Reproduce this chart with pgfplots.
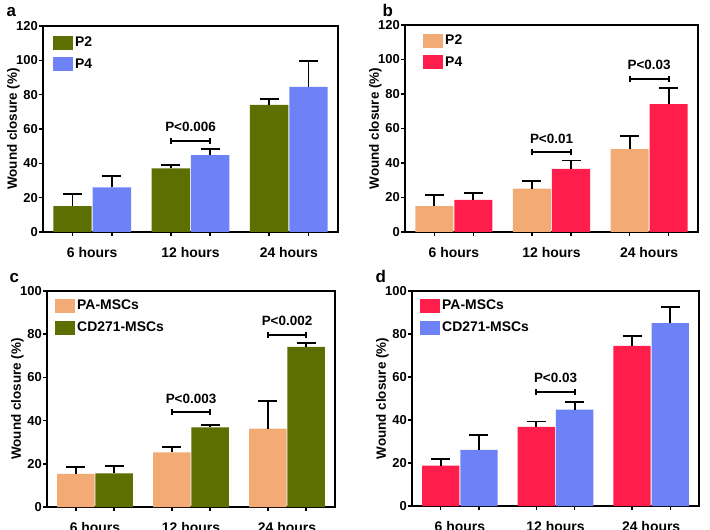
\documentclass[border=0pt]{standalone}
\usepackage{fontspec}
\setmainfont{Liberation Sans}
\usepackage{pgfplots}
\pgfplotsset{compat=1.18}
\definecolor{cOlive}{HTML}{5C6F00}
\definecolor{cBlue}{HTML}{6E82F8}
\definecolor{cPeach}{HTML}{F2AB75}
\definecolor{cRed}{HTML}{FF1E4B}
\pgfplotsset{
  panel/.style={
    scale only axis,
    xmin=-0.5, xmax=2.5, ymin=0,
    axis line style={line width=2bp},
    tick align=outside,
    tick pos=left,
    major tick length=4bp,
    tick style={black, line width=1.5bp},
    xtick={-0.2,0.2,0.8,1.2,1.8,2.2},
    xticklabels={},
    extra x ticks={0,1,2},
    extra x tick labels={6 hours,12 hours,24 hours},
    extra x tick style={major tick length=0pt, tick label style={yshift=-12bp, font=\fontsize{14}{16}\selectfont\bfseries}},
    /pgf/number format/assume math mode=true,
    tick label style={font=\fontsize{13}{15}\selectfont\bfseries},
    yticklabel style={inner xsep=1bp},
    ylabel={Wound closure (\%)},
    ylabel shift=-8bp,
    ylabel style={font=\fontsize{13.5}{16}\selectfont\bfseries},
    legend style={draw=none, fill=none, at={(0,1)}, anchor=north west,
      font=\fontsize{14}{16}\selectfont\bfseries, row sep=6.5bp, inner sep=0pt},
    legend cell align=left,
    legend image code/.code={\fill[##1] (0bp,-7bp) rectangle (20bp,7bp);},
    clip=false,
  },
  bars/.style={ybar, bar width=0.39, bar shift=0pt, draw=none, fill=#1,
    error bars/.cd, y dir=plus, y explicit,
    error bar style={line width=1.8bp, black},
    error mark options={line width=1.8bp, black, mark size=9.5bp, rotate=90}},
}
\newcommand{\bracket}[4]{%
  \draw[line width=2bp, black] (axis cs:#1,#3) -- node[midway, anchor=base, yshift=9bp, inner sep=0pt, font=\fontsize{13.5}{16}\selectfont\bfseries] {#4} (axis cs:#2,#3);
  \draw[line width=2bp, black] ([yshift=-3bp]axis cs:#1,#3) -- ([yshift=3bp]axis cs:#1,#3);
  \draw[line width=2bp, black] ([yshift=-3bp]axis cs:#2,#3) -- ([yshift=3bp]axis cs:#2,#3);
}
\begin{document}
\begin{tikzpicture}
\path[use as bounding box] (0,0) rectangle (710bp,530bp);
% panel a
\begin{axis}[panel, at={(43bp,298bp)}, anchor=south west, width=295bp, height=206bp,
  ymax=120, ytick={0,20,...,120}, legend style={xshift=10bp, yshift=-9bp}]
\addplot[bars=cOlive] coordinates {(-0.2,15) +- (0,7) (0.8,37) +- (0,1.8) (1.8,74) +- (0,3.5)};
\addplot[bars=cBlue] coordinates {(0.2,26) +- (0,6.6) (1.2,44.8) +- (0,3.5) (2.2,84.5) +- (0,15.3)};
\legend{P2,P4}
\bracket{0.8}{1.2}{53.2}{P<0.006}
\end{axis}
% panel b
\begin{axis}[panel, at={(405bp,298bp)}, anchor=south west, width=293bp, height=207bp,
  ymax=120, ytick={0,20,...,120}, legend style={xshift=18bp, yshift=-8bp}]
\addplot[bars=cPeach] coordinates {(-0.2,15) +- (0,6.6) (0.8,25.1) +- (0,4.6) (1.8,48) +- (0,7.5)};
\addplot[bars=cRed] coordinates {(0.2,18.6) +- (0,3.8) (1.2,36.6) +- (0,4.8) (2.2,74.2) +- (0,9.1)};
\legend{P2,P4}
\bracket{0.8}{1.2}{46.1}{P<0.01}
\bracket{1.8}{2.2}{88.8}{P<0.03}
\end{axis}
% panel c
\begin{axis}[panel, at={(47bp,23bp)}, anchor=south west, width=288bp, height=216bp,
  ymax=100, ytick={0,20,...,100}, legend style={xshift=8bp, yshift=-7bp}]
\addplot[bars=cPeach] coordinates {(-0.2,15.3) +- (0,3.2) (0.8,25.3) +- (0,2.5) (1.8,36.3) +- (0,12.7)};
\addplot[bars=cOlive] coordinates {(0.2,15.6) +- (0,3.2) (1.2,36.9) +- (0,1.1) (2.2,74.1) +- (0,1.7)};
\legend{PA-MSCs,CD271-MSCs}
\bracket{0.8}{1.2}{43.8}{P<0.003}
\bracket{1.8}{2.2}{79.8}{P<0.002}
\end{axis}
% panel d
\begin{axis}[panel, at={(412bp,24bp)}, anchor=south west, width=287bp, height=215bp,
  ymax=100, ytick={0,20,...,100}, legend style={xshift=8bp, yshift=-7bp}]
\addplot[bars=cRed] coordinates {(-0.2,18.8) +- (0,3.2) (0.8,36.8) +- (0,2.5) (1.8,74.5) +- (0,4.4)};
\addplot[bars=cBlue] coordinates {(0.2,26.1) +- (0,6.8) (1.2,44.8) +- (0,3.7) (2.2,85) +- (0,7.5)};
\legend{PA-MSCs,CD271-MSCs}
\bracket{0.8}{1.2}{53.1}{P<0.03}
\end{axis}
\node[anchor=base west, font=\fontsize{17}{20}\selectfont\bfseries] at (3bp,513bp) {a};
\node[anchor=base west, font=\fontsize{17}{20}\selectfont\bfseries] at (379bp,513bp) {b};
\node[anchor=base west, font=\fontsize{17}{20}\selectfont\bfseries] at (6bp,247bp) {c};
\node[anchor=base west, font=\fontsize{17}{20}\selectfont\bfseries] at (372bp,247bp) {d};
\end{tikzpicture}
\end{document}
